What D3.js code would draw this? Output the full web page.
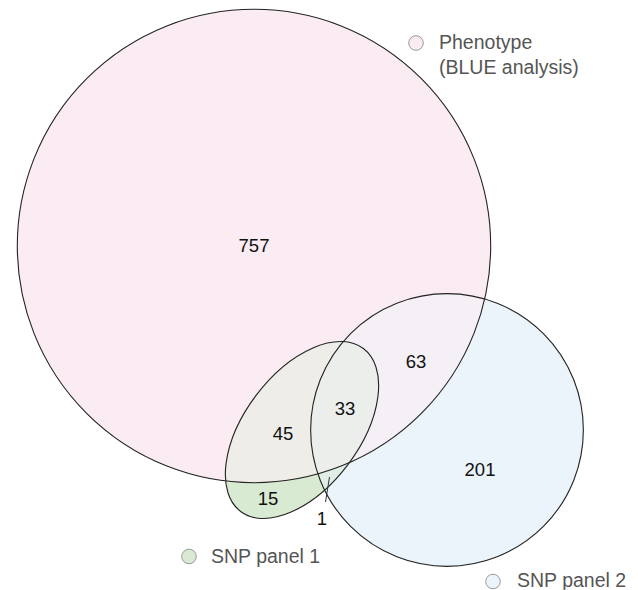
<!DOCTYPE html>
<html>
<head>
<meta charset="utf-8">
<script src="https://cdn.jsdelivr.net/npm/d3@7"></script>
<style>
  html, body { margin: 0; padding: 0; background: #fff; }
  svg { display: block; font-family: "Liberation Sans", Arial, sans-serif; }
</style>
</head>
<body>
<svg id="chart" width="638" height="590"></svg>
<script>
// ---- data ----
const setNames = ["Phenotype", "SNP panel 1", "SNP panel 2"];
const legendLines = [["Phenotype", "(BLUE analysis)"], ["SNP panel 1"], ["SNP panel 2"]];
// exclusive region counts
const regionKeys   = ["P", "S2", "S1", "P&S2", "P&S1", "P&S1&S2", "S1&S2"];
const regionValues = [757, 201, 15, 63, 45, 33, 1];
// set totals (sum of their regions)
const setTotals = [757 + 63 + 45 + 33, 15 + 45 + 33 + 1, 201 + 63 + 33 + 1];

// ---- layout (positions / styles) ----
const W = 638, H = 590;
const colors = { P: "#fbebf3", S1: "#d9ead3", S2: "#ebf3fb",
                 PS2: "#f5eff6", PS1: "#eeede7", S1S2: "#e0eee6", PS1S2: "#eceeec" };
const centers = { P: [254, 246], S1: [302, 430], S2: [447, 430] };
const ellipseAspect = 1.773, ellipseAngle = -53;
const labelPos = { "P": [254, 245], "S2": [480, 469], "S1": [268, 498], "P&S2": [416, 361],
                   "P&S1": [283, 433], "P&S1&S2": [345, 408], "S1&S2": [322, 518] };
const leader = [[329.5, 477], [325.5, 502]];
const legendPos = [[416, 43, 439, 49], [189, 556.5, 211, 563], [493, 581.5, 517, 587]];

// area-proportional radius
const r = d3.scaleSqrt().domain([0, setTotals[0]]).range([0, 236.7]);
const rP = r(setTotals[0]), rS2 = r(setTotals[2]), rS1 = r(setTotals[1]);
const rx1 = rS1 * Math.sqrt(ellipseAspect), ry1 = rS1 / Math.sqrt(ellipseAspect);

const svg = d3.select("#chart");
const defs = svg.append("defs");

function pinkShape(sel) { return sel.append("circle").attr("cx", centers.P[0]).attr("cy", centers.P[1]).attr("r", rP); }
function blueShape(sel) { return sel.append("circle").attr("cx", centers.S2[0]).attr("cy", centers.S2[1]).attr("r", rS2); }
function greenShape(sel) {
  return sel.append("ellipse").attr("cx", 0).attr("cy", 0).attr("rx", rx1).attr("ry", ry1)
    .attr("transform", `translate(${centers.S1[0]},${centers.S1[1]}) rotate(${ellipseAngle})`);
}

pinkShape(defs.append("clipPath").attr("id", "clipP"));
blueShape(defs.append("clipPath").attr("id", "clipS2"));
greenShape(defs.append("clipPath").attr("id", "clipS1"));

const fills = svg.append("g");
pinkShape(fills).attr("fill", colors.P);
blueShape(fills).attr("fill", colors.S2);
greenShape(fills).attr("fill", colors.S1);
blueShape(fills.append("g").attr("clip-path", "url(#clipP)")).attr("fill", colors.PS2);
greenShape(fills.append("g").attr("clip-path", "url(#clipP)")).attr("fill", colors.PS1);
greenShape(fills.append("g").attr("clip-path", "url(#clipS2)")).attr("fill", colors.S1S2);
greenShape(fills.append("g").attr("clip-path", "url(#clipP)").append("g").attr("clip-path", "url(#clipS2)")).attr("fill", colors.PS1S2);

const outlines = svg.append("g").attr("fill", "none").attr("stroke", "#222").attr("stroke-width", 1.1);
pinkShape(outlines);
blueShape(outlines);
greenShape(outlines);

svg.append("line")
  .attr("x1", leader[0][0]).attr("y1", leader[0][1]).attr("x2", leader[1][0]).attr("y2", leader[1][1])
  .attr("stroke", "#333").attr("stroke-width", 1);

svg.append("g").selectAll("text").data(regionKeys).join("text")
  .attr("x", k => labelPos[k][0]).attr("y", k => labelPos[k][1])
  .attr("text-anchor", "middle").attr("dominant-baseline", "central")
  .attr("font-size", 18.5).attr("fill", "#111")
  .text((k, i) => regionValues[i]);

const legendFill = [colors.P, colors.S1, colors.S2];
const lg = svg.append("g").selectAll("g").data(setNames).join("g");
lg.append("circle")
  .attr("cx", (d, i) => legendPos[i][0]).attr("cy", (d, i) => legendPos[i][1]).attr("r", 7.3)
  .attr("fill", (d, i) => legendFill[i]).attr("stroke", "#999").attr("stroke-width", 1);
lg.each(function (d, i) {
  const t = d3.select(this).append("text")
    .attr("x", legendPos[i][2]).attr("y", legendPos[i][3])
    .attr("font-size", 19.5).attr("fill", "#555");
  legendLines[i].forEach((line, j) => {
    t.append("tspan").attr("x", legendPos[i][2]).attr("dy", j === 0 ? 0 : 25).text(line);
  });
});
</script>
</body>
</html>
